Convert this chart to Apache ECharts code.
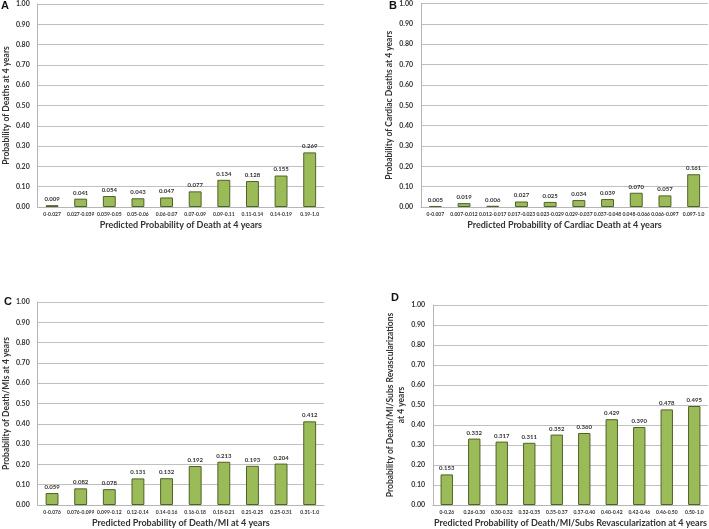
<!DOCTYPE html>
<html><head><meta charset="utf-8">
<script src="https://cdn.jsdelivr.net/npm/echarts@6/dist/echarts.min.js"></script>
<style>html,body{margin:0;padding:0;background:#fff}#c{width:709px;height:529px}</style>
</head><body><div id="c"></div>
<script>
var catsA = ['0-0.027','0.027-0.039','0.039-0.05','0.05-0.06','0.06-0.07','0.07-0.09','0.09-0.11','0.11-0.14','0.14-0.19','0.19-1.0'];
var valsA = [0.009,0.041,0.054,0.043,0.047,0.077,0.134,0.128,0.155,0.269];
var catsB = ['0-0.007','0.007-0.012','0.012-0.017','0.017-0.023','0.023-0.029','0.029-0.037','0.037-0.048','0.048-0.066','0.066-0.097','0.097-1.0'];
var valsB = [0.005,0.019,0.006,0.027,0.025,0.034,0.039,0.070,0.057,0.161];
var catsC = ['0-0.076','0.076-0.099','0.099-0.12','0.12-0.14','0.14-0.16','0.16-0.18','0.18-0.21','0.21-0.25','0.25-0.31','0.31-1.0'];
var valsC = [0.059,0.082,0.078,0.131,0.132,0.192,0.213,0.193,0.204,0.412];
var catsD = ['0-0.26','0.26-0.30','0.30-0.32','0.32-0.35','0.35-0.37','0.37-0.40','0.40-0.42','0.42-0.46','0.46-0.50','0.50-1.0'];
var valsD = [0.153,0.332,0.317,0.311,0.352,0.360,0.429,0.390,0.478,0.495];
var xTitles = ['Predicted Probability of Death at 4 years','Predicted Probability of Cardiac Death at 4 years','Predicted Probability of Death/MI at 4 years','Predicted Probability of Death/MI/Subs Revascularization at 4 years'];
var yTitles = ['Probability of Deaths at 4 years','Probability of Cardiac Deaths at 4 years','Probability of Death/MIs at 4 years','Probability of Death/MI/Subs Revascularizations\nat 4 years'];
var panelLetters = ['A','B','C','D'];

var FONT = 'Lato';
var TXT = '#333333';
var grids = [
  {left:33, top:4, width:291, height:203},
  {left:421, top:3, width:287, height:204},
  {left:33, top:302, width:291, height:205},
  {left:433, top:305, width:275, height:202}
];
var yNameGaps = [25, 22, 25, 19];
var cats = [catsA,catsB,catsC,catsD];
var vals = [valsA,valsB,valsC,valsD];
var xAxes=[], yAxes=[], series=[];
for (var i=0;i<4;i++){
  xAxes.push({gridIndex:i, type:'category', data:cats[i],
    axisLine:{lineStyle:{color:'#b5b5b5',width:1}}, axisTick:{show:false},
    axisLabel:{interval:0, fontSize:5, fontWeight:'bold', color:TXT, fontFamily:FONT, margin:5},
    name:xTitles[i], nameLocation:'middle', nameGap:14,
    nameTextStyle:{fontSize:9, fontWeight:'bold', color:TXT, fontFamily:FONT}});
  yAxes.push({gridIndex:i, type:'value', min:0, max:1, interval:0.1,
    axisLine:{show:true, lineStyle:{color:'#b5b5b5',width:1}}, axisTick:{show:false},
    splitLine:{lineStyle:{color:'#c0c0c0',width:1}},
    axisLabel:{formatter:function(v){return v.toFixed(2);}, fontSize:7, fontWeight:'bold', color:TXT, fontFamily:FONT, margin:8},
    name:yTitles[i], nameLocation:'middle', nameGap:yNameGaps[i], nameRotate:90,
    nameTextStyle:{fontSize:8.5, fontWeight:'bold', color:TXT, fontFamily:FONT, lineHeight:11}});
  series.push({type:'bar', xAxisIndex:i, yAxisIndex:i, data:vals[i], barWidth:'45%',
    itemStyle:{color:'#9bbb59', borderColor:'#4f6228', borderWidth:1},
    label:{show:true, position:'top', distance:3, formatter:function(p){return p.value.toFixed(3);},
      fontSize:6, fontWeight:'bold', color:TXT, fontFamily:FONT}});
}
var letterPos = [[1,0],[389,0],[4,296],[391,292]];
var graphics = panelLetters.map(function(l,i){
  return {type:'text', left:letterPos[i][0], top:letterPos[i][1],
    style:{text:l, font:'bold 11px "Liberation Sans"', fill:'#111'}};
});
var chart = echarts.init(document.getElementById('c'), null, {renderer:'canvas'});
chart.setOption({animation:false, grid:grids, xAxis:xAxes, yAxis:yAxes, series:series, graphic:graphics});
</script></body></html>
